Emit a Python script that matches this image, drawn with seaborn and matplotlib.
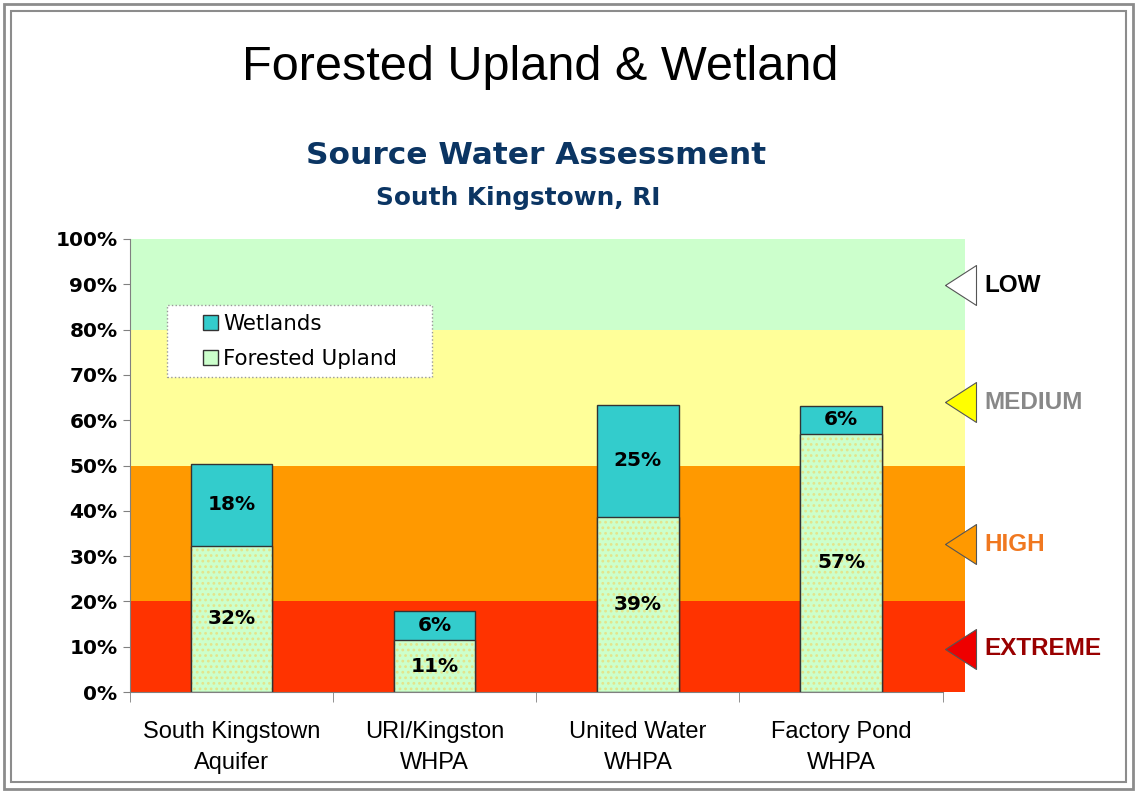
import pandas as pd
import matplotlib
matplotlib.use("Agg")
import matplotlib.pyplot as plt
import matplotlib.transforms as mtransforms
import seaborn as sns
from matplotlib.patches import Patch, Rectangle

# data
sites = ["South Kingstown\nAquifer", "URI/Kingston\nWHPA", "United Water\nWHPA", "Factory Pond\nWHPA"]
forested = [32.3, 11.4, 38.7, 57.0]
wetlands = [18.0, 6.4, 24.7, 6.1]

band_edges = [0, 20, 50, 80, 100]
band_colors = ["#FF3300", "#FF9900", "#FFFF99", "#CCFFCC"]
risk_names = ["EXTREME", "HIGH", "MEDIUM", "LOW"]
risk_levels = [9.6, 32.6, 64, 89.8]
risk_text_colors = ["#990000", "#F07820", "#888888", "#000000"]
risk_marker_colors = ["#EE0000", "#FF9900", "#FFFF00", "#FFFFFF"]

WET_COLOR = "#33CCCC"
FOR_COLOR = "#CCFFCC"
NAVY = "#0B3563"

df = pd.DataFrame({"site": sites, "forested": forested, "wetlands": wetlands})
df["total"] = df["forested"] + df["wetlands"]

sns.set_style("white")
plt.rcParams["hatch.linewidth"] = 1.2
plt.rcParams["text.color"] = "black"
plt.rcParams["xtick.labelcolor"] = "black"
plt.rcParams["ytick.labelcolor"] = "black"

fig = plt.figure(figsize=(11.37, 7.93), dpi=100)
ax = fig.add_axes([130 / 1137, 1 - 692 / 793, 835 / 1137, 453 / 793])

# risk bands
for lo, hi, c in zip(band_edges[:-1], band_edges[1:], band_colors):
    ax.axhspan(lo, hi, color=c, zorder=0, lw=0)

# wetlands = full stack height, forested drawn over it
sns.barplot(data=df, x="site", y="total", color=WET_COLOR, width=0.4,
            edgecolor="#333333", linewidth=1, saturation=1, ax=ax, zorder=2)
sns.barplot(data=df, x="site", y="forested", color=FOR_COLOR, width=0.4,
            edgecolor="#E4E48A", linewidth=0, saturation=1, hatch="...",
            ax=ax, zorder=3)
sns.barplot(data=df, x="site", y="forested", fill=False, width=0.4,
            edgecolor="#333333", linewidth=1, ax=ax, zorder=4)

# segment labels
for p, f, w in zip(ax.containers[0], forested, wetlands):
    xc = p.get_x() + p.get_width() / 2
    ax.text(xc, f / 2, f"{f:.0f}%", ha="center", va="center",
            fontsize=14.5, fontweight="bold", zorder=5)
    ax.text(xc, f + w / 2, f"{w:.0f}%", ha="center", va="center",
            fontsize=14.5, fontweight="bold", zorder=5)

ax.set_xlim(-0.5, 3.61)
ax.set_ylim(0, 100)
ax.set_xlabel("")
ax.set_ylabel("")
ax.set_yticks(range(0, 101, 10))
ax.set_yticklabels([f"{v}%" for v in range(0, 101, 10)],
                   fontsize=14.5, fontweight="bold")
ax.set_xticks(range(len(sites)))
ax.set_xticklabels(sites, fontsize=17, family="Liberation Sans", linespacing=1.5)
ax.set_xticks([-0.5, 0.5, 1.5, 2.5, 3.5], minor=True)
ax.tick_params(axis="x", which="major", length=0, pad=21)
ax.tick_params(axis="x", which="minor", length=7, color="#808080", direction="out", bottom=True)
ax.tick_params(axis="y", length=5, color="#808080", direction="out", left=True, pad=4)
for s in ["top", "right"]:
    ax.spines[s].set_visible(False)
ax.spines["left"].set_color("#808080")
ax.spines["bottom"].set_color("#808080")
ax.spines["bottom"].set_bounds(-0.5, 3.5)
ax.spines["bottom"].set_zorder(6)

# risk markers on the right (tall left-pointing triangles)
tri = [(-31, 0), (0, 20), (0, -20), (-31, 0)]
trans = mtransforms.blended_transform_factory(ax.transAxes, ax.transData)
for name, lvl, tc, mc in zip(risk_names, risk_levels, risk_text_colors, risk_marker_colors):
    ax.plot([1.0132], [lvl], marker=tri, markersize=44.6, markerfacecolor=mc,
            markeredgecolor="#555555", markeredgewidth=0.8, transform=trans,
            clip_on=False, zorder=7)
    ax.text(1.0228, lvl, name, color=tc, fontsize=17.5, fontweight="bold",
            family="Liberation Sans", va="center", ha="left", transform=trans)

# legend with a dotted frame drawn by hand
ax.add_patch(Rectangle((37 / 835, (692 - 377) / 453), 265 / 835, 72 / 453,
                       transform=ax.transAxes, facecolor="white",
                       edgecolor="#999999", linestyle=":", lw=1, zorder=8))
handles = [Patch(facecolor=WET_COLOR, edgecolor="#333333", label="Wetlands"),
           Patch(facecolor=FOR_COLOR, edgecolor="#333333", label="Forested Upland")]
leg = ax.legend(handles=handles, loc="upper left",
                bbox_to_anchor=((203 - 130) / 835, (692 - 314) / 453),
                prop={"size": 15.4}, frameon=False,
                handlelength=0.7, handleheight=0.7,
                handletextpad=0.25, borderpad=0, labelspacing=0.72,
                borderaxespad=0)
leg.set_zorder(9)

# titles
fig.text(0.4754, 1 - 68 / 793, "Forested Upland & Wetland", ha="center", va="center",
         fontsize=35, family="Liberation Sans")
fig.text(0.4714, 1 - 156 / 793, "Source Water Assessment", ha="center", va="center",
         fontsize=22.5, fontweight="bold", color=NAVY)
fig.text(0.456, 1 - 198 / 793, "South Kingstown, RI", ha="center", va="center",
         fontsize=17.8, fontweight="bold", color=NAVY)

# double frame around the slide
for inset, lw in [(4, 2.0), (11, 1.5)]:
    fig.patches.append(Rectangle((inset / 1137, inset / 793),
                                 1 - 2 * inset / 1137, 1 - 2 * inset / 793,
                                 transform=fig.transFigure, fill=False,
                                 edgecolor="#8C8C8C", lw=lw))

fig.savefig("out.png", dpi=100, facecolor="white")
